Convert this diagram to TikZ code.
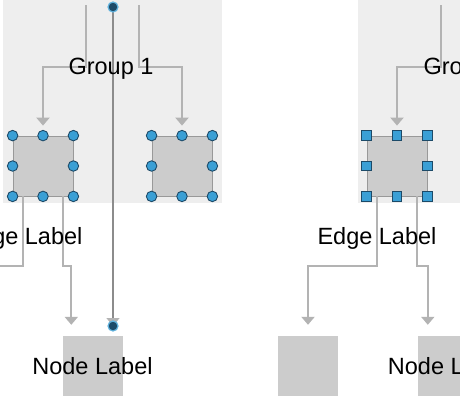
\documentclass[tikz,border=0pt]{standalone}
\usepackage{fontspec}
\setmainfont{Liberation Sans}
\usetikzlibrary{arrows.meta,calc}

\definecolor{grpbg}{HTML}{EEEEEE}
\definecolor{boxgray}{HTML}{CCCCCC}
\definecolor{linegray}{HTML}{B3B3B3}
\definecolor{hblue}{HTML}{3A9FD5}
\definecolor{hnavy}{HTML}{1C4A68}

\tikzset{
  group/.style={fill=grpbg, inner sep=0pt},
  grpbox/.style={fill=boxgray, draw=black!40, line width=0.8pt, minimum size=60pt, inner sep=0pt},
  bottombox/.style={fill=boxgray, minimum size=60pt, inner sep=0pt},
  lbl/.style={font=\fontsize{23.5}{27}\selectfont, inner sep=0pt},
  edge/.style={draw=linegray, line width=2pt, -{Triangle[width=13pt,length=8pt]}},
  plain/.style={draw=linegray, line width=2pt},
  centerline/.style={draw=black!45, line width=1.4pt, -{Triangle[width=13pt,length=8pt,color=linegray]}},
  handle/.style={circle, fill=hblue, draw=hnavy, line width=0.9pt, minimum size=10.5pt, inner sep=0pt},
  sqhandle/.style={rectangle, fill=hblue, draw=hnavy, line width=0.9pt, minimum size=9.5pt, inner sep=0pt},
  port/.style={circle, fill=hnavy, draw=hblue!80, line width=1.2pt, minimum size=10pt, inner sep=0pt},
}

\begin{document}
\begin{tikzpicture}[x=1pt, y=-1pt]

\useasboundingbox (0,0) rectangle (460,400);

% groups
\node[group, minimum width=219pt, minimum height=205pt] (grpL) at (112.5,100.5) {};
\node[group, minimum width=219pt, minimum height=205pt] (grpR) at (467.5,100.5) {};

% nodes inside the groups
\node[grpbox] (sqA) at (43,166) {};
\node[grpbox] (sqB) at (182,166) {};
\node[grpbox] (sqC) at (397,166) {};

% nodes below
\node[bottombox] (nodeL) at (92.5,366) {};
\node[bottombox] (nodeD) at (308,366) {};
\node[bottombox] (nodeE) at (448,366) {};

% free ends
\coordinate (srcA) at (86,5);
\coordinate (srcB) at (139,5);
\coordinate (srcC) at (441,5);
\coordinate (offL) at (-46,325);
\coordinate (pTop) at (113,7);
\coordinate (pBot) at (113,326);

% edges into the groups
\draw[edge, shorten >=10pt] (srcA) -- ++(0,62) -| (sqA.north);
\draw[edge, shorten >=10pt] (srcB) -- ++(0,62) -| (sqB.north);
\draw[edge, shorten >=10pt] (srcC) -- ++(0,62) -| (sqC.north);

% edges out of the groups
\draw[plain] ($(sqA.south)+(-20,0)$) |- (-46,266) -- (offL);
\draw[edge, shorten >=11pt] ($(sqA.south)+(20,0)$) -- ++(0,70) -| ($(nodeL.north west)+(9,0)$);
\draw[edge, shorten >=11pt] ($(sqC.south)+(-20,0)$) -- ++(0,70) -| (nodeD.north);
\draw[edge, shorten >=11pt] ($(sqC.south)+(20,0)$) -- ++(0,70) -| ($(nodeE.north west)+(10,0)$);

% port to port
\draw[centerline] (pTop) -- (pBot);
\node[port] (dotTop) at (pTop) {};
\node[port] (dotBot) at (pBot) {};

% handles
\foreach \p in {north west,north,north east,west,east,south west,south,south east}{
  \node[handle] at (sqA.\p) {};
  \node[handle] at (sqB.\p) {};
  \node[sqhandle] at (sqC.\p) {};
}

% labels
\node[lbl, anchor=base] (grpLtext) at (111,74) {Group 1};
\node[lbl, anchor=base] (grpRtext) at (466,74) {Group 1};
\node[lbl, anchor=base] (edgeLtext) at (23,244) {Edge Label};
\node[lbl, anchor=base] (edgeRtext) at (377,244) {Edge Label};
\node[lbl] (nodeLtext) at (nodeL) {Node Label};
\node[lbl] (nodeEtext) at (nodeE) {Node Label};

\end{tikzpicture}
\end{document}
